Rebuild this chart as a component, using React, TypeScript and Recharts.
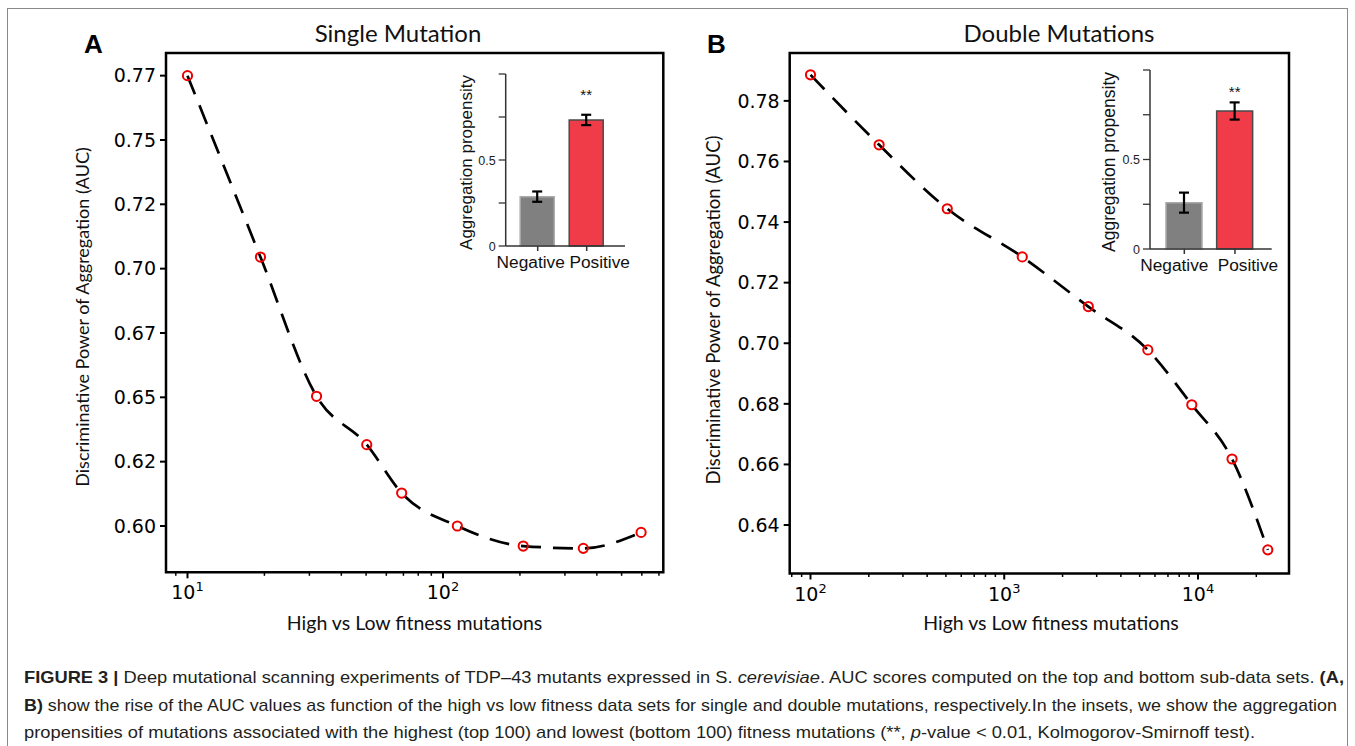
import { Bar, BarChart, Cell, ErrorBar, LabelList, Line, LineChart, ReferenceArea, XAxis, YAxis } from 'recharts'

// panel A - single mutations
const singleSizes = [10, 19.3, 32, 50.3, 68.9, 113.8, 206, 354, 596]
const singleAuc = [0.775, 0.7045, 0.6504, 0.6316, 0.6128, 0.6, 0.5922, 0.5913, 0.5975]
const singleYTicks = [0.6, 0.625, 0.65, 0.675, 0.7, 0.725, 0.75, 0.775]
const singleYLabels = ['0.60', '0.62', '0.65', '0.67', '0.70', '0.72', '0.75', '0.77']
const singleXMajor = [10, 100]
const singleXMinor = [9, 20, 30, 40, 50, 60, 70, 80, 90, 200, 300, 400, 500, 600, 700]

// panel B - double mutations
const doubleSizes = [100, 226, 508, 1239, 2716, 5510, 9290, 14990, 22930]
const doubleAuc = [0.7886, 0.7655, 0.7444, 0.7285, 0.7121, 0.6978, 0.6797, 0.6618, 0.6318]
const doubleYTicks = [0.64, 0.66, 0.68, 0.7, 0.72, 0.74, 0.76, 0.78]
const doubleYLabels = ['0.64', '0.66', '0.68', '0.70', '0.72', '0.74', '0.76', '0.78']
const doubleXMajor = [100, 1000, 10000]
const doubleXMinor = [80, 90, 200, 300, 400, 500, 600, 700, 800, 900, 2000, 3000, 4000, 5000, 6000, 7000, 8000, 9000, 20000]

// insets
const insetGroups = ['Negative', 'Positive']
const insetSig = ['', '**']
const insetYTicks = [0, 0.25, 0.5, 0.75, 1]
const insetYLabels = ['0', '', '0.5', '', '']
const singleInsetMean = [0.287, 0.733]
const singleInsetErr = [0.03, 0.03]
const doubleInsetMean = [0.259, 0.771]
const doubleInsetErr = [0.056, 0.048]

const BAR_FILL = ['#808080', '#ef3c48']
const BAR_EDGE = ['#a9a9a9', '#4a4a4a']
const MARKER = '#ee0000'
const TICK_FONT = 'DejaVu Sans, sans-serif'
const TITLE_FONT = 'Lato, Open Sans, sans-serif'
const ARIAL = 'Liberation Sans, Arial, sans-serif'

const singleData = singleSizes.map((size, i) => ({ size, auc: singleAuc[i] }))
const doubleData = doubleSizes.map((size, i) => ({ size, auc: doubleAuc[i] }))
const singleInset = insetGroups.map((group, i) => ({ group, mean: singleInsetMean[i], err: singleInsetErr[i], sig: insetSig[i] }))
const doubleInset = insetGroups.map((group, i) => ({ group, mean: doubleInsetMean[i], err: doubleInsetErr[i], sig: insetSig[i] }))

function LogTick(props: any) {
  const { x, y, payload, majors } = props
  const major = majors.includes(payload.value)
  const exp = Math.round(Math.log10(payload.value))
  return (
    <g>
      <line x1={x} x2={x} y1={y} y2={y + (major ? 6 : 3.5)} stroke="#000" strokeWidth={major ? 2 : 1.5} />
      {major && (
        <text x={x} y={y + 27} textAnchor="middle" fontFamily={TICK_FONT} fontSize={19} fill="#000">
          10<tspan dy={-8} fontSize={13}>{exp}</tspan>
        </text>
      )}
    </g>
  )
}

function AucTick(props: any) {
  const { x, y, payload, values, labels } = props
  const i = values.findIndex((v: number) => Math.abs(v - payload.value) < 1e-9)
  return (
    <g>
      <line x1={x} x2={x - 6} y1={y} y2={y} stroke="#000" strokeWidth={2} />
      <text x={x - 10} y={y} dy="0.36em" textAnchor="end" fontFamily={TICK_FONT} fontSize={19} fill="#000">
        {labels[i]}
      </text>
    </g>
  )
}

function Marker(props: any) {
  const { cx, cy } = props
  if (cx == null || cy == null) return <g />
  return <circle cx={cx} cy={cy} r={4.6} stroke={MARKER} strokeWidth={2} fill="none" />
}

function AucPanel(props: any) {
  const { width, height, margin, yWidth, data, xDomain, yDomain, xMajor, xMinor, yTicks, yLabels } = props
  const xTicks = [...xMinor, ...xMajor].sort((a, b) => a - b)
  return (
    <LineChart width={width} height={height} data={data} margin={margin}>
      <XAxis
        dataKey="size"
        type="number"
        scale="log"
        domain={xDomain}
        allowDataOverflow
        ticks={xTicks}
        interval={0}
        axisLine={false}
        tickLine={false}
        tickSize={0}
        tickMargin={0}
        height={60}
        tick={(p: any) => <LogTick {...p} majors={xMajor} />}
      />
      <YAxis
        type="number"
        domain={yDomain}
        allowDataOverflow
        ticks={yTicks}
        interval={0}
        axisLine={false}
        tickLine={false}
        tickSize={0}
        tickMargin={0}
        width={yWidth}
        tick={(p: any) => <AucTick {...p} values={yTicks} labels={yLabels} />}
      />
      <ReferenceArea x1={xDomain[0]} x2={xDomain[1]} y1={yDomain[0]} y2={yDomain[1]} fill="none" stroke="#000" strokeWidth={2.5} ifOverflow="visible" />
      <Line
        dataKey="auc"
        type="monotone"
        stroke="#000"
        strokeWidth={2.7}
        strokeDasharray="20 12"
        dot={(p: any) => <Marker key={`m${p.index}`} {...p} />}
        activeDot={false}
        isAnimationActive={false}
      />
    </LineChart>
  )
}

function GroupTick(props: any) {
  const { x, y, payload, index, shift } = props
  return (
    <g>
      <line x1={x} x2={x} y1={y} y2={y + 5} stroke="#333" strokeWidth={1.5} />
      <text x={x + shift[index]} y={y + 22} textAnchor="middle" fontFamily={ARIAL} fontSize={17.3} fill="#111">
        {payload.value}
      </text>
    </g>
  )
}

function PropTick(props: any) {
  const { x, y, payload } = props
  const i = insetYTicks.findIndex((v) => Math.abs(v - payload.value) < 1e-9)
  return (
    <g>
      <line x1={x} x2={x - 7} y1={y} y2={y} stroke="#333" strokeWidth={1.3} />
      <text x={x - 10} y={y} dy="0.36em" textAnchor="end" fontFamily={ARIAL} fontSize={12.5} fill="#222">
        {insetYLabels[i]}
      </text>
    </g>
  )
}

function Inset(props: any) {
  const { width, height, margin, yWidth, padding, barSize, data, sigOffset, shift } = props
  return (
    <BarChart width={width} height={height} data={data} margin={margin}>
      <XAxis
        dataKey="group"
        padding={padding}
        axisLine={{ stroke: '#333', strokeWidth: 1.5 }}
        tickLine={false}
        tickSize={0}
        tickMargin={0}
        height={30}
        interval={0}
        tick={(p: any) => <GroupTick {...p} shift={shift} />}
      />
      <YAxis
        type="number"
        domain={[0, 1]}
        ticks={insetYTicks}
        interval={0}
        axisLine={{ stroke: '#333', strokeWidth: 1.5 }}
        tickLine={false}
        tickSize={0}
        tickMargin={0}
        width={yWidth}
        tick={(p: any) => <PropTick {...p} />}
      />
      <Bar dataKey="mean" barSize={barSize} strokeWidth={1.5} isAnimationActive={false}>
        {data.map((_: any, i: number) => (
          <Cell key={i} fill={BAR_FILL[i]} stroke={BAR_EDGE[i]} />
        ))}
        <ErrorBar dataKey="err" width={5} stroke="#000" strokeWidth={2.2} direction="y" />
        <LabelList dataKey="sig" position="top" offset={sigOffset} fill="#111" fontSize={15} fontFamily={ARIAL} />
      </Bar>
    </BarChart>
  )
}

export default function App() {
  const abs = (left: number, top: number) => ({ position: 'absolute' as const, left, top })
  return (
    <div style={{ position: 'absolute', left: 0, top: 0, width: 1355, height: 746, background: '#fff', overflow: 'hidden' }}>
      <div style={{ position: 'absolute', left: 7, top: 8, width: 1341, height: 760, border: '1.5px solid #8a8a8a', boxSizing: 'border-box' }} />
      <div style={abs(0, 0)}>
        <AucPanel
          width={690}
          height={660}
          margin={{ top: 53, right: 26.7, bottom: 27.7, left: 0 }}
          yWidth={166}
          data={singleData}
          xDomain={[8.24, 728]}
          yDomain={[0.582, 0.7838]}
          xMajor={singleXMajor}
          xMinor={singleXMinor}
          yTicks={singleYTicks}
          yLabels={singleYLabels}
        />
      </div>
      <div style={abs(690, 0)}>
        <AucPanel
          width={620}
          height={660}
          margin={{ top: 53, right: 21, bottom: 26.5, left: 0 }}
          yWidth={99.7}
          data={doubleData}
          xDomain={[78.1, 29500]}
          yDomain={[0.624, 0.7958]}
          xMajor={doubleXMajor}
          xMinor={doubleXMinor}
          yTicks={doubleYTicks}
          yLabels={doubleYLabels}
        />
      </div>
      <div style={abs(430, 60)}>
        <Inset
          width={210}
          height={220}
          margin={{ top: 14, right: 15, bottom: 4, left: 0 }}
          yWidth={75.7}
          padding={{ left: 7.5, right: 13.8 }}
          barSize={34}
          data={singleInset}
          sigOffset={20}
          shift={[-7, 13]}
        />
      </div>
      <div style={abs(1070, 55)}>
        <Inset
          width={220}
          height={230}
          margin={{ top: 15, right: 18.3, bottom: 6, left: 0 }}
          yWidth={80}
          padding={{ left: 9, right: 11.4 }}
          barSize={36}
          data={doubleInset}
          sigOffset={14}
          shift={[-10, 13]}
        />
      </div>
      <svg width={1355} height={746} style={{ position: 'absolute', left: 0, top: 0, pointerEvents: 'none' }}>
        <text x={84} y={53} fontFamily={ARIAL} fontWeight="bold" fontSize={26} fill="#000">A</text>
        <text x={707} y={53} fontFamily={ARIAL} fontWeight="bold" fontSize={26} fill="#000">B</text>
        <text x={398} y={42} textAnchor="middle" fontFamily={TITLE_FONT} fontSize={24} fill="#111">Single Mutation</text>
        <text x={1059} y={42} textAnchor="middle" fontFamily={TITLE_FONT} fontSize={24} fill="#111">Double Mutations</text>
        <text x={414.6} y={630} textAnchor="middle" fontFamily={TITLE_FONT} fontSize={19.5} fill="#111">High vs Low fitness mutations</text>
        <text x={1051} y={630} textAnchor="middle" fontFamily={TITLE_FONT} fontSize={19.5} fill="#111">High vs Low fitness mutations</text>
        <text transform="translate(89 317) rotate(-90)" textAnchor="middle" fontFamily={TITLE_FONT} fontSize={18} fill="#111">
          Discriminative Power of Aggregation (AUC)
        </text>
        <text transform="translate(720 310) rotate(-90)" textAnchor="middle" fontFamily={TITLE_FONT} fontSize={18.5} fill="#111">
          Discriminative Power of Aggregation (AUC)
        </text>
        <text transform="translate(471.5 162.5) rotate(-90)" textAnchor="middle" fontFamily={ARIAL} fontSize={17} fill="#111">
          Aggregation propensity
        </text>
        <text transform="translate(1114.7 162) rotate(-90)" textAnchor="middle" fontFamily={ARIAL} fontSize={17.5} fill="#111">
          Aggregation propensity
        </text>
        <g fontFamily="Liberation Sans Narrow, Liberation Sans, Arial, sans-serif" fontSize={17} fill="#231f20">
          <text x={24} y={683} textLength={1320} lengthAdjust="spacingAndGlyphs">
            <tspan fontWeight="bold">FIGURE 3 | </tspan>Deep mutational scanning experiments of TDP–43 mutants expressed in S. <tspan fontStyle="italic">cerevisiae</tspan>. AUC scores computed on the top and bottom sub-data sets. <tspan fontWeight="bold">(A,</tspan>
          </text>
          <text x={24} y={711} textLength={1313} lengthAdjust="spacingAndGlyphs">
            <tspan fontWeight="bold">B)</tspan> show the rise of the AUC values as function of the high vs low fitness data sets for single and double mutations, respectively.In the insets, we show the aggregation
          </text>
          <text x={24} y={738} textLength={1231} lengthAdjust="spacingAndGlyphs">
            propensities of mutations associated with the highest (top 100) and lowest (bottom 100) fitness mutations (**, <tspan fontStyle="italic">p</tspan>-value &lt; 0.01, Kolmogorov-Smirnoff test).
          </text>
        </g>
      </svg>
    </div>
  )
}
